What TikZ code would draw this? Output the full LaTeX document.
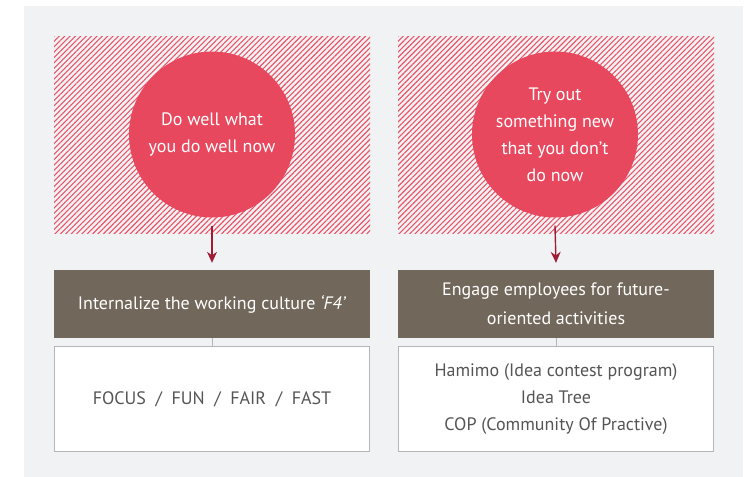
\documentclass[tikz,border=0pt]{standalone}
\usepackage{fontspec}
\setmainfont{PT Sans}
\usetikzlibrary{patterns.meta,arrows.meta}
\definecolor{panelgrey}{HTML}{F1F2F4}
\definecolor{circlered}{HTML}{E8485E}
\definecolor{hatchred}{HTML}{E95468}
\definecolor{boxbrown}{HTML}{72675B}
\definecolor{arrowred}{HTML}{A01C35}
\definecolor{edgegrey}{HTML}{B4B5B8}
\definecolor{textgrey}{HTML}{555555}
\begin{document}
\begin{tikzpicture}[x=1pt,y=-1pt]
\tikzstyle{hatchbox}=[pattern={Lines[angle=45,distance=3.8pt,line width=1.1pt]},pattern color=hatchred]
\tikzstyle{bubble}=[circle,fill=circlered,minimum size=166pt,inner sep=0pt,text=white,align=center,font=\fontsize{18}{27}\selectfont]
\tikzstyle{titlebox}=[fill=boxbrown,minimum width=316pt,minimum height=68pt,inner sep=0pt,text=white,align=center,font=\fontsize{18}{29}\selectfont]
\tikzstyle{listbox}=[draw=edgegrey,line width=1pt,fill=white,minimum width=315pt,minimum height=105pt,inner sep=0pt,text=textgrey,align=center,font=\fontsize{18}{27}\selectfont]
\tikzstyle{flowarrow}=[draw=arrowred,line width=1.4pt,-{Stealth[length=11pt,width=10pt]}]
\tikzstyle{linkline}=[draw=edgegrey,line width=1pt]
\useasboundingbox (0,0) rectangle (748,477);
\fill[panelgrey] (24,6) rectangle (743,477);
% hatched backgrounds
\fill[hatchbox] (54,36) rectangle (370,233);
\fill[hatchbox] (398,36) rectangle (714,233);
% left column
\node[bubble] (well) at (212,134.5) {Do well what\\you do well now};
\node[titlebox] (culture) at (212,304) {Internalize the working culture \textit{‘F4’}};
\node[listbox] (four) at (212,399) {FOCUS~~/~~FUN~~/~~FAIR~~/~~FAST};
% right column
\node[bubble] (new) at (555,134.5) {Try out\\something new\\that you don’t\\do now};
\node[titlebox] (engage) at (556,304) {Engage employees for future-\\oriented activities};
\node[listbox] (ideas) at (556,399) {Hamimo (Idea contest program)\\Idea Tree\\COP (Community Of Practive)};
% connectors
\draw[flowarrow] ([yshift=-8pt]well.south) -- ([yshift=7pt]culture.north);
\draw[flowarrow] ([yshift=-8pt]new.south) -- ([yshift=7pt]engage.north);
\draw[linkline] (culture) -- (four);
\draw[linkline] (engage) -- (ideas);
\end{tikzpicture}
\end{document}
